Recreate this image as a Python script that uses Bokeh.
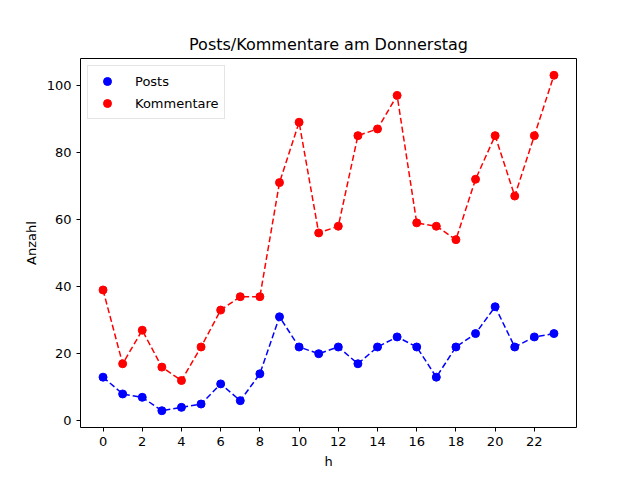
from bokeh.plotting import figure
from bokeh.models import Range1d, FixedTicker, Legend, LegendItem
from bokeh.embed import file_html
from bokeh.resources import INLINE

hours = list(range(24))
posts = [13, 8, 7, 3, 4, 5, 11, 6, 14, 31, 22, 20, 22, 17, 22, 25, 22, 13, 22, 26, 34, 22, 25, 26]
kommentare = [39, 17, 27, 16, 12, 22, 33, 37, 37, 71, 89, 56, 58, 85, 87, 97, 59, 58, 54, 72, 85, 67, 85, 103]
x_ticks = list(range(0, 24, 2))
y_ticks = [0, 20, 40, 60, 80, 100]

FONT = "DejaVu Sans"

p = figure(width=640, height=480, output_backend="svg", toolbar_location=None,
           title="Posts/Kommentare am Donnerstag",
           x_range=Range1d(-1.15, 24.15), y_range=Range1d(-2, 108),
           min_border_left=80, min_border_right=64, min_border_top=58, min_border_bottom=53)
p.background_fill_color = "white"
p.border_fill_color = "white"
p.outline_line_color = "black"
p.outline_line_width = 1
p.xgrid.visible = False
p.ygrid.visible = False

p.title.align = "center"
p.title.text_font = FONT
p.title.text_font_size = "16px"
p.title.text_font_style = "normal"
p.title.text_color = "black"

for ax, ticks, lab in ((p.xaxis[0], x_ticks, "h"), (p.yaxis[0], y_ticks, "Anzahl")):
    ax.ticker = FixedTicker(ticks=ticks)
    ax.axis_label = lab
    ax.axis_label_text_font = FONT
    ax.axis_label_text_font_size = "13px"
    ax.axis_label_text_font_style = "normal"
    ax.axis_label_text_color = "black"
    ax.major_label_text_font = FONT
    ax.major_label_text_font_size = "13px"
    ax.major_label_text_color = "black"
    ax.minor_tick_line_color = None
    ax.major_tick_in = 0
    ax.major_tick_out = 4
    ax.axis_line_color = None
    ax.major_tick_line_color = "black"

p.line(hours, posts, line_color="#0000ff", line_width=1.5, line_dash="6 3")
r1 = p.scatter(hours, posts, size=8, fill_color="#0000ff", line_color="#0000ff")
p.line(hours, kommentare, line_color="#ff0000", line_width=1.5, line_dash="6 3")
r2 = p.scatter(hours, kommentare, size=8, fill_color="#ff0000", line_color="#ff0000")

legend = Legend(items=[LegendItem(label="Posts", renderers=[r1]),
                       LegendItem(label="Kommentare", renderers=[r2])],
                location="top_left")
legend.label_text_font = FONT
legend.label_text_font_size = "13px"
legend.label_text_color = "black"
legend.border_line_color = "#cccccc"
legend.border_line_width = 1
legend.margin = 7
legend.padding = 5
legend.spacing = 2
legend.glyph_width = 28
legend.label_standoff = 14
legend.background_fill_alpha = 0.8
p.add_layout(legend)

open("out.html", "w").write(file_html(p, INLINE))
